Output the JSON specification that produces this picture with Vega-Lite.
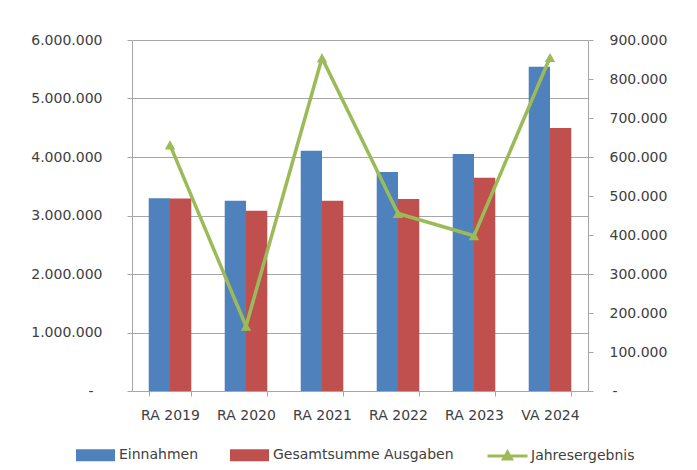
{
  "$schema": "https://vega.github.io/schema/vega-lite/v6.json",
  "width": 456,
  "height": 351,
  "autosize": {"type": "none"},
  "padding": {"left": 132, "top": 40, "right": 109, "bottom": 79},
  "background": "white",
  "config": {
    "view": {"stroke": null},
    "font": "DejaVu Sans",
    "axis": {
      "labelFont": "DejaVu Sans",
      "labelFontSize": 14,
      "labelColor": "#404040",
      "domainColor": "#a6a6a6",
      "tickColor": "#a6a6a6",
      "gridColor": "#a6a6a6",
      "tickSize": 5,
      "title": null
    }
  },
  "data": {
    "values": [
      {"jahr": "RA 2019", "serie": "Einnahmen", "wert": 3295000},
      {"jahr": "RA 2019", "serie": "Gesamtsumme Ausgaben", "wert": 3290000},
      {"jahr": "RA 2019", "serie": "Jahresergebnis", "wert": 631000},
      {"jahr": "RA 2020", "serie": "Einnahmen", "wert": 3253000},
      {"jahr": "RA 2020", "serie": "Gesamtsumme Ausgaben", "wert": 3082000},
      {"jahr": "RA 2020", "serie": "Jahresergebnis", "wert": 166000},
      {"jahr": "RA 2021", "serie": "Einnahmen", "wert": 4108000},
      {"jahr": "RA 2021", "serie": "Gesamtsumme Ausgaben", "wert": 3253000},
      {"jahr": "RA 2021", "serie": "Jahresergebnis", "wert": 854000},
      {"jahr": "RA 2022", "serie": "Einnahmen", "wert": 3744000},
      {"jahr": "RA 2022", "serie": "Gesamtsumme Ausgaben", "wert": 3282000},
      {"jahr": "RA 2022", "serie": "Jahresergebnis", "wert": 455000},
      {"jahr": "RA 2023", "serie": "Einnahmen", "wert": 4051000},
      {"jahr": "RA 2023", "serie": "Gesamtsumme Ausgaben", "wert": 3647000},
      {"jahr": "RA 2023", "serie": "Jahresergebnis", "wert": 398000},
      {"jahr": "VA 2024", "serie": "Einnahmen", "wert": 5544000},
      {"jahr": "VA 2024", "serie": "Gesamtsumme Ausgaben", "wert": 4494000},
      {"jahr": "VA 2024", "serie": "Jahresergebnis", "wert": 855000}
    ]
  },
  "layer": [
    {
      "transform": [{"filter": "datum.serie !== 'Jahresergebnis'"}],
      "mark": {"type": "bar"},
      "encoding": {
        "x": {
          "field": "jahr",
          "type": "nominal",
          "sort": null,
          "scale": {"paddingInner": 0.44, "paddingOuter": 0.22},
          "axis": {"labelAngle": 0, "tickBand": "extent", "labelPadding": 12, "grid": false}
        },
        "xOffset": {
          "field": "serie",
          "type": "nominal",
          "sort": ["Einnahmen", "Gesamtsumme Ausgaben"],
          "scale": {"paddingInner": 0, "paddingOuter": 0}
        },
        "y": {
          "field": "wert",
          "type": "quantitative",
          "scale": {"domain": [0, 6000000], "nice": false},
          "axis": {
            "orient": "left",
            "grid": true,
            "values": [0, 1000000, 2000000, 3000000, 4000000, 5000000, 6000000],
            "labelPadding": {"condition": {"test": "datum.value === 0", "value": 34}, "value": 25},
            "labelExpr": "datum.value === 0 ? '-' : replace(format(datum.value, ',d'), regexp(',', 'g'), '.')"
          }
        },
        "color": {
          "field": "serie",
          "type": "nominal",
          "scale": {
            "domain": ["Einnahmen", "Gesamtsumme Ausgaben", "Jahresergebnis"],
            "range": ["#4f81bd", "#c0504d", "#9bbb59"]
          },
          "legend": {
            "orient": "none",
            "legendX": -43.5,
            "legendY": 408,
            "direction": "horizontal",
            "columns": 3,
            "title": null,
            "labelFont": "DejaVu Sans",
            "labelFontSize": 14,
            "labelColor": "#404040",
            "labelLimit": 400,
            "labelOffset": 16.5,
            "columnPadding": 27,
            "symbolSize": 100,
            "symbolStrokeWidth": 3,
            "encode": {
              "symbols": {
                "update": {
                  "shape": {"signal": "datum.value === 'Jahresergebnis' ? 'M-4,0H4M0,-0.8L0.8,0.6H-0.8Z' : 'M-3.6,-0.9H3.6V0.9H-3.6Z'"},
                  "fill": {"scale": "color", "field": "value"},
                  "stroke": {"signal": "datum.value === 'Jahresergebnis' ? '#9bbb59' : 'transparent'"},
                  "strokeWidth": {"value": 3},
                  "opacity": {"value": 1},
                  "fillOpacity": {"value": 1}
                }
              }
            }
          }
        }
      }
    },
    {
      "transform": [{"filter": "datum.serie === 'Jahresergebnis'"}],
      "mark": {
        "type": "line",
        "strokeWidth": 3.5,
        "point": {"shape": "triangle-up", "size": 110, "filled": true}
      },
      "encoding": {
        "x": {"field": "jahr", "type": "nominal", "sort": null},
        "y": {
          "field": "wert",
          "type": "quantitative",
          "scale": {"domain": [0, 900000], "nice": false},
          "axis": {
            "orient": "right",
            "grid": false,
            "values": [0, 100000, 200000, 300000, 400000, 500000, 600000, 700000, 800000, 900000],
            "labelPadding": {"condition": {"test": "datum.value === 0", "value": 19}, "value": 16},
            "labelExpr": "datum.value === 0 ? '-' : replace(format(datum.value, ',d'), regexp(',', 'g'), '.')"
          }
        },
        "color": {"field": "serie", "type": "nominal"}
      }
    }
  ],
  "resolve": {"scale": {"y": "independent"}}
}
